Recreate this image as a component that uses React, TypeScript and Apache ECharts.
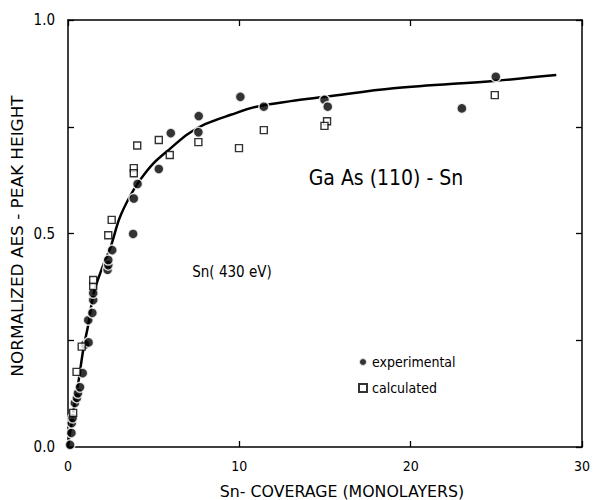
import React, { useEffect, useRef } from "react";
import * as echarts from "echarts";

const FONT = "'DejaVu Sans Condensed', 'Liberation Sans Narrow', 'DejaVu Sans', sans-serif";

const xTicks = [0, 10, 20, 30];
const yTickLabels = ["0.0", "0.5", "1.0"];

const expX = [0.12, 0.2, 0.22, 0.27, 0.4, 0.52, 0.58, 0.7, 0.86, 1.0, 1.2, 1.18, 1.42, 1.47, 1.47, 2.31, 2.35, 2.35, 2.58, 3.8, 3.84, 4.06, 5.3, 6.0, 7.61, 7.63, 10.06, 11.43, 14.97, 15.16, 22.99, 24.97];
const expY = [0.005, 0.033, 0.056, 0.068, 0.103, 0.115, 0.126, 0.14, 0.173, 0.24, 0.245, 0.297, 0.314, 0.344, 0.36, 0.415, 0.426, 0.438, 0.461, 0.499, 0.582, 0.616, 0.651, 0.735, 0.737, 0.775, 0.82, 0.797, 0.813, 0.797, 0.793, 0.867];

const calcX = [0.3, 0.5, 0.8, 1.47, 1.47, 2.35, 2.55, 3.84, 3.84, 4.04, 5.3, 5.94, 7.61, 9.98, 11.43, 15.12, 14.97, 24.91];
const calcY = [0.08, 0.176, 0.235, 0.377, 0.391, 0.496, 0.532, 0.653, 0.641, 0.706, 0.719, 0.684, 0.714, 0.70, 0.742, 0.763, 0.752, 0.824];

const curveX = [0, 0.3, 0.6, 0.9, 1.2, 1.5, 2.0, 2.5, 3.0, 3.6, 4.2, 5.0, 6.0, 7.0, 8.0, 9.5, 11.0, 13.0, 15.0, 19.0, 25.0, 28.5];
const curveY = [0, 0.08, 0.15, 0.23, 0.29, 0.36, 0.42, 0.47, 0.535, 0.586, 0.625, 0.665, 0.70, 0.733, 0.756, 0.778, 0.797, 0.81, 0.82, 0.84, 0.858, 0.871];

const seriesNames = ["experimental", "calculated"];

export default function App() {
  const ref = useRef<HTMLDivElement>(null);
  useEffect(() => {
    if (!ref.current) return;
    const chart = echarts.init(ref.current, null, { renderer: "svg" });
    const zip = (xs: number[], ys: number[]) => xs.map((x, i) => [x, ys[i]]);
    const axisCommon = {
      type: "value" as const,
      axisLine: { show: true, onZero: false, lineStyle: { color: "#000", width: 1.5 } },
      axisTick: { show: true, inside: true, length: 6, lineStyle: { color: "#000", width: 1.3 } },
      splitLine: { show: false },
    };
    chart.setOption({
      animation: false,
      backgroundColor: "#fff",
      grid: { left: 68, right: 10, top: 20, bottom: 53 },
      xAxis: [
        {
          ...axisCommon,
          min: 0,
          max: 30,
          interval: 10,
          position: "bottom",
          axisLabel: {
            show: true,
            margin: 12,
            fontFamily: FONT,
            fontSize: 14,
            color: "#000",
            formatter: (v: number) => (xTicks.includes(v) ? String(v) : ""),
          },
        },
        {
          ...axisCommon,
          min: 0,
          max: 30,
          interval: 10,
          position: "top",
          axisLabel: { show: false },
        },
      ],
      yAxis: [
        {
          ...axisCommon,
          min: 0,
          max: 1,
          interval: 0.25,
          position: "left",
          axisLabel: {
            show: true,
            margin: 13,
            fontFamily: FONT,
            fontSize: 15,
            color: "#000",
            formatter: (v: number) => {
              const s = v.toFixed(1);
              return Math.abs(v * 2 - Math.round(v * 2)) < 1e-6 && yTickLabels.includes(s) ? s : "";
            },
          },
        },
        {
          ...axisCommon,
          min: 0,
          max: 1,
          interval: 0.25,
          position: "right",
          axisLabel: { show: false },
        },
      ],
      legend: {
        data: seriesNames,
        orient: "vertical",
        left: 353,
        top: 350,
        itemWidth: 8,
        itemHeight: 8,
        itemGap: 12,
        textStyle: { fontFamily: FONT, fontSize: 14, color: "#000" },
      },
      series: [
        {
          name: "fit",
          type: "line",
          data: zip(curveX, curveY),
          smooth: 0.35,
          symbol: "none",
          lineStyle: { color: "#000", width: 2.5 },
          z: 1,
        },
        {
          name: seriesNames[0],
          type: "scatter",
          data: zip(expX, expY),
          symbol: "circle",
          symbolSize: 10,
          itemStyle: { color: "#000", borderColor: "#fff", borderWidth: 1.5 },
          z: 3,
        },
        {
          name: seriesNames[1],
          type: "scatter",
          data: zip(calcX, calcY),
          symbol: "rect",
          symbolSize: 7,
          itemStyle: { color: "#fff", borderColor: "#000", borderWidth: 1.4 },
          z: 4,
        },
      ],
      graphic: [
        {
          type: "text",
          x: 386,
          y: 178,
          style: {
            text: "Ga As (110) - Sn",
            fontFamily: FONT,
            fontSize: 21,
            fill: "#000",
            align: "center",
            verticalAlign: "middle",
          },
        },
        {
          type: "text",
          x: 232,
          y: 272,
          style: {
            text: "Sn( 430 eV)",
            fontFamily: FONT,
            fontSize: 15,
            fill: "#000",
            align: "center",
            verticalAlign: "middle",
          },
        },
        {
          type: "text",
          x: 342,
          y: 492,
          scaleX: 1.17,
          style: {
            text: "Sn- COVERAGE (MONOLAYERS)",
            fontFamily: FONT,
            fontSize: 15,
            fill: "#000",
            align: "center",
            verticalAlign: "middle",
          },
        },
        {
          type: "text",
          x: 18,
          y: 236,
          rotation: Math.PI / 2,
          scaleX: 1.25,
          style: {
            text: "NORMALIZED AES - PEAK HEIGHT",
            fontFamily: FONT,
            fontSize: 15,
            fill: "#000",
            align: "center",
            verticalAlign: "middle",
          },
        },
      ],
    });
    return () => chart.dispose();
  }, []);
  return (
    <div
      ref={ref}
      style={{ position: "fixed", left: 0, top: 0, width: 593, height: 500 }}
    />
  );
}
